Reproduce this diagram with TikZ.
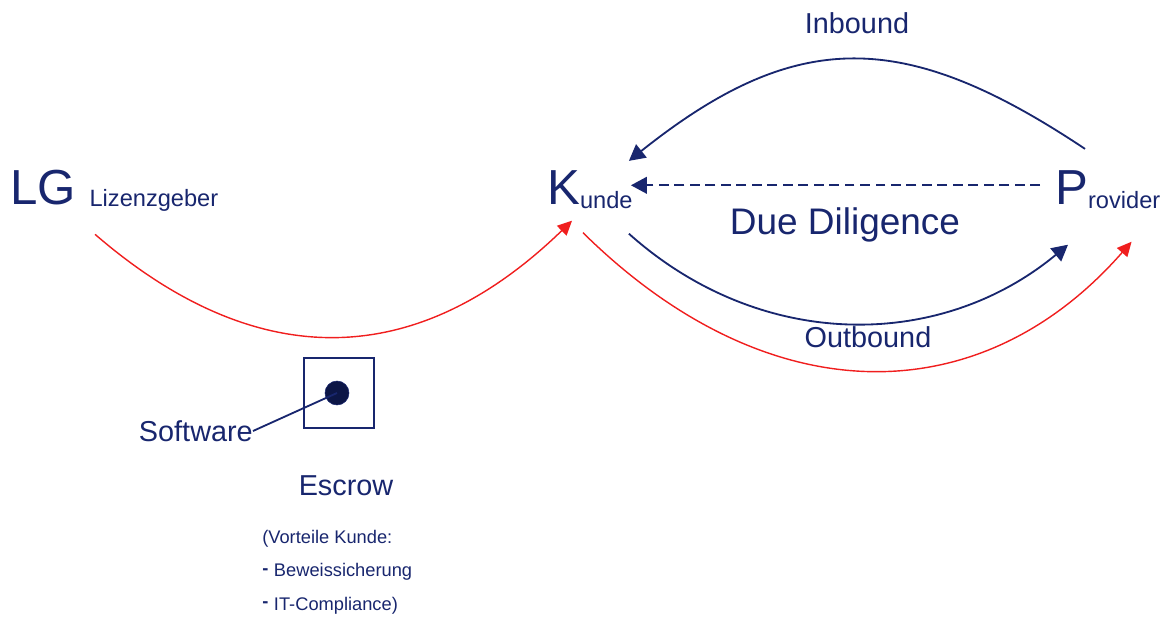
\documentclass[tikz,border=0pt]{standalone}
\usepackage{fontspec}
\setmainfont{Liberation Sans}
\usetikzlibrary{arrows.meta, positioning, calc}
\definecolor{navyds}{RGB}{24,38,110}
\definecolor{navydot}{RGB}{12,22,70}
\definecolor{rotpfeil}{RGB}{240,30,30}
\newcommand\gross[1]{{\fontsize{35}{35}\selectfont #1}}
\newcommand\klein[1]{{\fontsize{16.8}{16.8}\selectfont #1}}

\begin{document}
\begin{tikzpicture}[font=\fontsize{20.5}{24}\selectfont,
    lbl/.style={text=navyds, inner sep=0pt},
    flow/.style={draw=navyds, line width=1.3pt, -{Triangle[length=0.4cm,width=0.42cm]}},
    lizenz/.style={draw=rotpfeil, line width=1pt, -{Triangle[length=0.36cm,width=0.34cm]}}]
        \useasboundingbox (0,0) rectangle (29.225,-15.475);
        % Parteien
        \node[lbl, anchor=base west] (lg) at (0.25,-5.1) {\gross{LG }\raisebox{-1.5pt}{\klein{Lizenzgeber}}};
        \node[lbl, anchor=base west] (kunde) at (13.675,-5.1) {\gross{K}\raisebox{-3pt}{\klein{unde}}};
        \node[lbl, anchor=base west] (provider) at (26.375,-5.1) {\gross{P}\raisebox{-3pt}{\klein{rovider}}};
        \node[lbl] (inbound) at (21.425,-0.575) {Inbound};
        \node[lbl] (outbound) at (21.7,-8.425) {Outbound};
        \node[lbl, font=\fontsize{26.3}{30}\selectfont] (diligence) at (21.125,-5.625) {Due Diligence};
        % Escrow
        \node[draw=navyds, line width=1.4pt, minimum size=1.75cm, inner sep=0pt] (escrow) at (8.475,-9.825) {};
        \node[circle, draw=navyds, fill=navydot, minimum size=0.6cm, inner sep=0pt] (source) at (8.425,-9.825) {};
        \node[lbl, anchor=east] (software) at (6.325,-10.775) {Software};
        \node[lbl] (escrowlbl) at (8.65,-12.15) {Escrow};
        \node[lbl, anchor=base west, align=left, font=\fontsize{13}{23.8}\selectfont] (vorteile) at (6.55,-15.25)
            {(Vorteile Kunde:\\\raisebox{1.5pt}{\textbf{-}}\hspace{4pt}Beweissicherung\\\raisebox{1.5pt}{\textbf{-}}\hspace{4pt}IT-Compliance)};
        \draw[navyds, line width=1.3pt] (software.east) -- (source.center);
        % Lizenzkette
        \draw[lizenz] ($(lg.south west)+(2.125,-0.575)$) .. controls +(4.025,-3.48) and +(-3.9,-3.78) .. ($(kunde.south west)+(0.625,-0.3)$);
        \draw[lizenz] ($(kunde.south west)+(0.9,-0.6)$) .. controls +(4.625,-4.56) and +(-3.775,-4.31) .. ($(provider.south east)+(-0.725,-0.825)$);
        \draw[flow] ($(kunde.south east)+(-0.1,-0.625)$) .. controls +(3.3,-2.95) and +(-3.2,-2.65) .. ($(provider.south west)+(0.325,-0.9)$);
        \draw[flow] ($(provider.north west)+(0.75,0.525)$) .. controls +(-4.5,3.0) and +(4.2,3.35) .. ($(kunde.north east)+(-0.1,0.225)$);
        \draw[flow, line width=1.2pt, dash pattern=on 7pt off 4pt] ($(provider.west)+(-0.375,0.1)$) -- ($(kunde.east)+(-0.05,0.1)$);
    \end{tikzpicture}
\end{document}
